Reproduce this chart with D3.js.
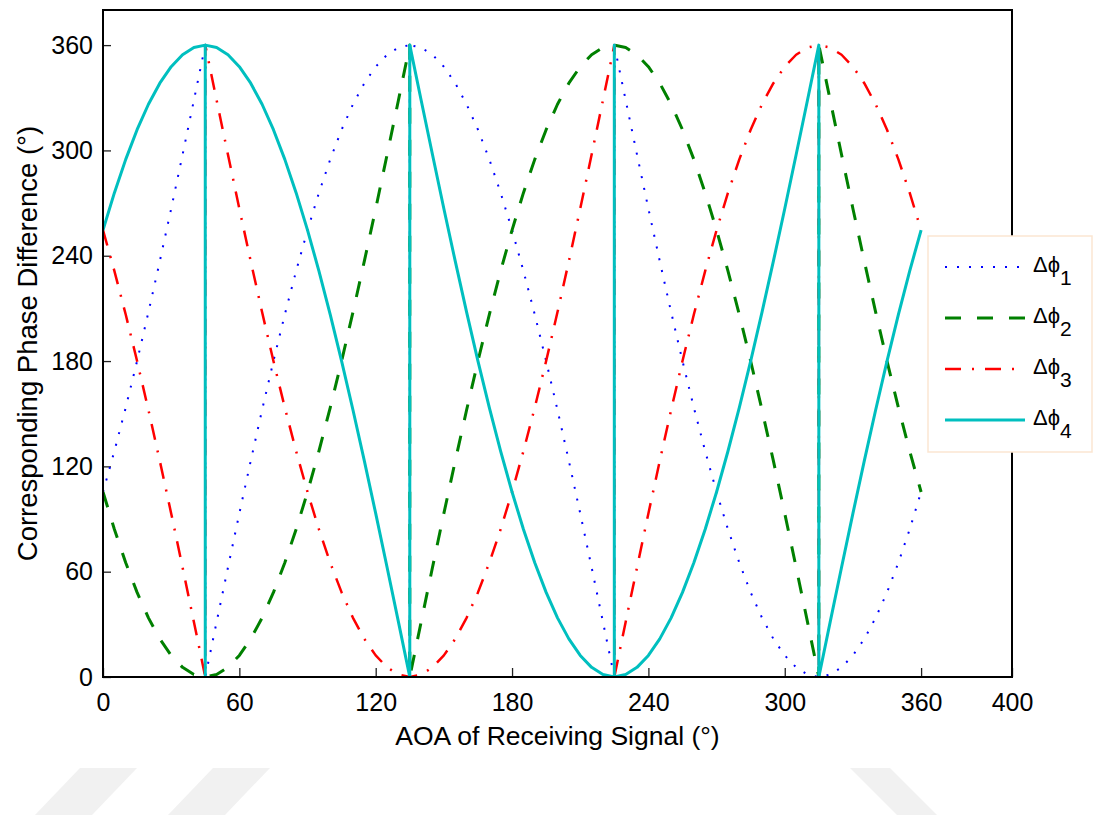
<!DOCTYPE html>
<html>
<head>
<meta charset="utf-8">
<script src="https://cdn.jsdelivr.net/npm/d3@7"></script>
<style>
  body { margin: 0; background: #fff; }
  svg { display: block; font-family: 'Liberation Sans', Arial, sans-serif; }
</style>
</head>
<body>
<svg class="phase-ch"></svg>
<script>
"use strict";

// AOA samples (deg); wrap points appear three times so the jumps draw as verticals
var aoa = [0,5,10,15,20,25,30,35,40,
  45,45,45,
  50,55,60,65,70,75,80,85,90,95,100,105,110,115,120,125,130,
  135,135,135,
  140,145,150,155,160,165,170,175,180,185,190,195,200,205,210,215,220,
  225,225,225,
  230,235,240,245,250,255,260,265,270,275,280,285,290,295,300,305,310,
  315,315,315,
  320,325,330,335,340,345,350,355,360];

var dphi1 = [105.4,128.6,153.5,180,207.9,236.9,266.8,297.5,328.6,
  360,0,0,
  31.4,62.5,93.2,123.1,152.1,180,206.5,231.4,254.6,275.8,294.9,311.8,326.3,338.3,347.7,354.5,358.6,
  360,0,360,
  358.6,354.5,347.7,338.3,326.3,311.8,294.9,275.8,254.6,231.4,206.5,180,152.1,123.1,93.2,62.5,31.4,
  0,360,360,
  328.6,297.5,266.8,236.9,207.9,180,153.5,128.6,105.4,84.2,65.1,48.2,33.7,21.7,12.3,5.5,1.4,
  0,0,0,
  1.4,5.5,12.3,21.7,33.7,48.2,65.1,84.2,105.4];

var dphi2 = [105.4,84.2,65.1,48.2,33.7,21.7,12.3,5.5,1.4,
  0,0,0,
  1.4,5.5,12.3,21.7,33.7,48.2,65.1,84.2,105.4,128.6,153.5,180,207.9,236.9,266.8,297.5,328.6,
  360,0,0,
  31.4,62.5,93.2,123.1,152.1,180,206.5,231.4,254.6,275.8,294.9,311.8,326.3,338.3,347.7,354.5,358.6,
  360,360,360,
  358.6,354.5,347.7,338.3,326.3,311.8,294.9,275.8,254.6,231.4,206.5,180,152.1,123.1,93.2,62.5,31.4,
  0,360,360,
  328.6,297.5,266.8,236.9,207.9,180,153.5,128.6,105.4];

var dphi3 = [254.6,231.4,206.5,180,152.1,123.1,93.2,62.5,31.4,
  0,360,360,
  328.6,297.5,266.8,236.9,207.9,180,153.5,128.6,105.4,84.2,65.1,48.2,33.7,21.7,12.3,5.5,1.4,
  0,0,0,
  1.4,5.5,12.3,21.7,33.7,48.2,65.1,84.2,105.4,128.6,153.5,180,207.9,236.9,266.8,297.5,328.6,
  360,0,0,
  31.4,62.5,93.2,123.1,152.1,180,206.5,231.4,254.6,275.8,294.9,311.8,326.3,338.3,347.7,354.5,358.6,
  360,0,360,
  358.6,354.5,347.7,338.3,326.3,311.8,294.9,275.8,254.6];

var dphi4 = [254.6,275.8,294.9,311.8,326.3,338.3,347.7,354.5,358.6,
  360,0,360,
  358.6,354.5,347.7,338.3,326.3,311.8,294.9,275.8,254.6,231.4,206.5,180,152.1,123.1,93.2,62.5,31.4,
  0,360,360,
  328.6,297.5,266.8,236.9,207.9,180,153.5,128.6,105.4,84.2,65.1,48.2,33.7,21.7,12.3,5.5,1.4,
  0,360,0,
  1.4,5.5,12.3,21.7,33.7,48.2,65.1,84.2,105.4,128.6,153.5,180,207.9,236.9,266.8,297.5,328.6,
  360,0,0,
  31.4,62.5,93.2,123.1,152.1,180,206.5,231.4,254.6];

var seriesNames = ['1','2','3','4'];
var xTicks = [0,60,120,180,240,300,360,400];
var yTicks = [0,60,120,180,240,300,360];

var W = 1093, H = 815;
var pLeft = 103, pRight = 1012, pTop = 10, pBottom = 677;

var svg = d3.select('.phase-ch')
  .attr('width',W)
  .attr('height',H);

// faint watermark stripes at the bottom of the page
var marks = [
  [[80,768],[137,768],[92,815],[35,815]],
  [[213,768],[270,768],[225,815],[168,815]],
  [[850,768],[890,768],[937,815],[897,815]]
];
svg.append('g').selectAll('polygon')
  .data(marks)
  .enter().append('polygon')
    .attr('points',function(d){return d.join(' ')})
    .style('fill','#f1f1f1');

var x = d3.scaleLinear()
  .domain([0,400])
  .range([pLeft,pRight]);

var y = d3.scaleLinear()
  .domain([0,380])
  .range([pBottom,pTop]);

var xAxis = d3.axisBottom(x)
  .tickValues(xTicks)
  .tickSizeInner(-9)
  .tickSizeOuter(0)
  .tickPadding(16);

var yAxis = d3.axisLeft(y)
  .tickValues(yTicks)
  .tickSizeInner(-8)
  .tickSizeOuter(0)
  .tickPadding(10);

svg.append('g')
  .attr('class','x-axis')
  .attr('transform','translate(0,'+pBottom+')')
  .call(xAxis);

svg.append('g')
  .attr('class','y-axis')
  .attr('transform','translate('+pLeft+',0)')
  .call(yAxis);

svg.selectAll('.x-axis .domain, .y-axis .domain').remove();
svg.selectAll('.x-axis line, .y-axis line')
  .attr('stroke','#222')
  .attr('stroke-width',1.3);
svg.selectAll('.x-axis text, .y-axis text')
  .attr('fill','#000')
  .style('font-size','25px')
  .style('font-family',"'Liberation Sans', Arial, sans-serif");

svg.append('clipPath')
  .attr('id','plot-clip')
  .append('rect')
    .attr('x',pLeft)
    .attr('y',pTop)
    .attr('width',pRight-pLeft)
    .attr('height',pBottom-pTop);

var styles = [
  {color:'#0000ff', width:2,   dash:'2,10'},
  {color:'#008000', width:3,   dash:'16,16'},
  {color:'#ff0000', width:2.5, dash:'16,11,2,11'},
  {color:'#00bfbf', width:3,   dash:null}
];
var allSeries = [dphi1,dphi2,dphi3,dphi4];

var line = d3.line()
  .x(function(d){return x(d[0])})
  .y(function(d){return y(d[1])});

var chart = svg.append('g')
  .attr('clip-path','url(#plot-clip)');

chart.selectAll('.series')
  .data(allSeries)
  .enter().append('path')
    .attr('class','series')
    .attr('d',function(vals){return line(aoa.map(function(a,i){return [a,vals[i]]}))})
    .attr('fill','none')
    .attr('stroke',function(d,i){return styles[i].color})
    .attr('stroke-width',function(d,i){return styles[i].width})
    .attr('stroke-dasharray',function(d,i){return styles[i].dash})
    .attr('stroke-linejoin','round');

// frame
svg.append('rect')
  .attr('x',pLeft)
  .attr('y',pTop)
  .attr('width',pRight-pLeft)
  .attr('height',pBottom-pTop)
  .attr('fill','none')
  .attr('stroke','#000')
  .attr('stroke-width',2);

// axis labels
svg.append('text')
  .attr('x',(pLeft+pRight)/2)
  .attr('y',745)
  .attr('text-anchor','middle')
  .style('font-size','26.5px')
  .text('AOA of Receiving Signal (°)');

svg.append('text')
  .attr('transform','translate(37,'+((pTop+pBottom)/2)+') rotate(-90)')
  .attr('text-anchor','middle')
  .style('font-size','27.5px')
  .text('Corresponding Phase Difference (°)');

// legend
var legend = svg.append('g');
legend.append('rect')
  .attr('x',928)
  .attr('y',236)
  .attr('width',164)
  .attr('height',216)
  .attr('fill','#fff')
  .attr('stroke','#fbe6d2')
  .attr('stroke-width',1.5);

var rows = legend.selectAll('.row')
  .data(seriesNames)
  .enter().append('g')
    .attr('class','row')
    .attr('transform',function(d,i){return 'translate(0,'+(267+i*51)+')'});

rows.append('line')
  .attr('x1',945)
  .attr('x2',1025)
  .attr('y1',0)
  .attr('y2',0)
  .attr('stroke',function(d,i){return styles[i].color})
  .attr('stroke-width',function(d,i){return styles[i].width})
  .attr('stroke-dasharray',function(d,i){return styles[i].dash});

var lab = rows.append('text')
  .attr('x',1033)
  .attr('y',5)
  .style('font-size','22px');
lab.append('tspan').text('Δϕ');
lab.append('tspan')
  .attr('dy',13)
  .style('font-size','21px')
  .text(function(d){return d});
</script>
</body>
</html>
